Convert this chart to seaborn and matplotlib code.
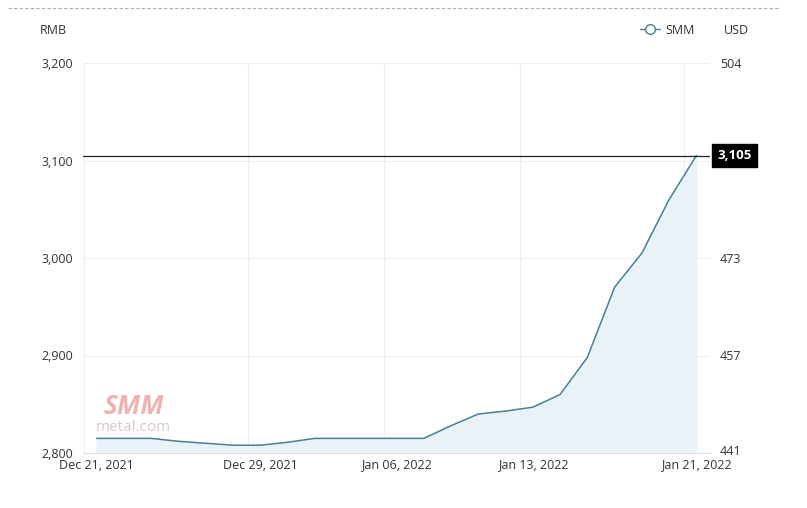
import numpy as np
import pandas as pd
import matplotlib.pyplot as plt
import seaborn as sns
from matplotlib.lines import Line2D
import matplotlib.transforms as mtransforms

# trading days shown on the category axis
dates = ["Dec 21, 2021", "Dec 22, 2021", "Dec 23, 2021", "Dec 24, 2021", "Dec 27, 2021",
         "Dec 28, 2021", "Dec 29, 2021", "Dec 30, 2021", "Dec 31, 2021", "Jan 04, 2022",
         "Jan 05, 2022", "Jan 06, 2022", "Jan 07, 2022", "Jan 10, 2022", "Jan 11, 2022",
         "Jan 12, 2022", "Jan 13, 2022", "Jan 14, 2022", "Jan 17, 2022", "Jan 18, 2022",
         "Jan 19, 2022", "Jan 20, 2022", "Jan 21, 2022"]
prices = [2815, 2815, 2815, 2812, 2810, 2808, 2808, 2811, 2815, 2815,
          2815, 2815, 2815, 2828, 2840, 2843, 2847, 2860, 2898, 2970,
          3005, 3060, 3105]
shown_dates = ["Dec 21, 2021", "Dec 29, 2021", "Jan 06, 2022", "Jan 13, 2022", "Jan 21, 2022"]
rmb_ticks = [2800, 2900, 3000, 3100, 3200]
usd_labels = ["441", "457", "473", "", "504"]
last_price = prices[-1]

df = pd.DataFrame({"idx": np.arange(len(dates)), "date": dates, "price": prices})

sns.set_style("white")
plt.rcParams["font.family"] = ["Open Sans", "DejaVu Sans"]

fig = plt.figure(figsize=(8.07, 5.08), dpi=100)
ax = fig.add_axes([83 / 807, 1 - 453 / 508, (710 - 83) / 807, (453 - 63) / 508])

line_col = "#4a7f99"
sns.lineplot(data=df, x="idx", y="price", ax=ax, color=line_col, linewidth=1.1)
ax.fill_between(df["idx"], df["price"], 2800, color="#e9f2f6", zorder=0)

ax.set_xlim(-0.5, len(dates) - 0.5)
ax.set_ylim(2800, 3200)
ax.set_yticks(rmb_ticks)
ax.set_yticklabels([f"{v:,}" for v in rmb_ticks])
tick_idx = [dates.index(d) for d in shown_dates]
ax.set_xticks(tick_idx)
ax.set_xticklabels(shown_dates)
ax.set_xlabel("")
ax.set_ylabel("")
ax.tick_params(axis="both", length=0, labelsize=9, colors="#333333")
ax.tick_params(axis="x", pad=4)
ax.tick_params(axis="y", pad=7)

# grid
for v in rmb_ticks:
    ax.axhline(v, color="#eeeeee", linewidth=0.8, zorder=-1)
for gx in [-0.46, 5.54, 10.54, 15.54, 21.54]:
    ax.axvline(gx, color="#eeeeee", linewidth=0.8, zorder=-1)
for s in ax.spines.values():
    s.set_visible(False)
ax.spines["bottom"].set_visible(True)
ax.spines["bottom"].set_color("#dddddd")
ax.spines["bottom"].set_linewidth(0.8)

# right USD axis
ax2 = ax.twinx()
ax2.set_ylim(2800, 3200)
ax2.set_yticks(rmb_ticks)
ax2.set_yticklabels(usd_labels)
ax2.tick_params(axis="y", length=0, labelsize=9, colors="#333333", pad=7)
for s in ax2.spines.values():
    s.set_visible(False)
# nudge the bottom USD label up a few pixels so it clears the last date label
lab = ax2.get_yticklabels()[0]
lab.set_transform(lab.get_transform() + mtransforms.ScaledTranslation(0, 3 / 100, fig.dpi_scale_trans))

# last price line and badge
ax.axhline(last_price, color="#222222", linewidth=0.9, zorder=3)
trans = mtransforms.blended_transform_factory(ax.transAxes, ax.transData)
ax.text(1.012, last_price, f"{last_price:,}", transform=trans, ha="left", va="center",
        fontsize=9.5, color="white", fontweight="bold",
        bbox=dict(boxstyle="square,pad=0.4", facecolor="black", edgecolor="black"))

# watermark
ax.text(1.35, 2848, "SMM", fontsize=19, fontweight="bold", color="#e89a9a", alpha=0.75,
        ha="center", va="center", style="italic")
ax.text(1.35, 2826, "metal.com", fontsize=11, color="#dcc8c8", ha="center", va="center")

# header texts
fig.text(40 / 807, 1 - 30 / 508, "RMB", fontsize=9, color="#333333", va="center")
fig.text(724 / 807, 1 - 30 / 508, "USD", fontsize=9, color="#333333", va="center")
handle = Line2D([0], [0], color=line_col, linewidth=1, marker="o", markersize=7,
                markerfacecolor="white", markeredgecolor=line_col)
fig.legend([handle], ["SMM"], loc="center right", bbox_to_anchor=(706 / 807, 1 - 30 / 508),
           frameon=False, fontsize=9, handlelength=1.6, handletextpad=0.4, labelcolor="#333333")

# dashed separator at top
fig.add_artist(Line2D([8 / 807, 780 / 807], [1 - 8 / 508, 1 - 8 / 508], color="#aaaaaa",
                      linewidth=0.8, linestyle=(0, (3, 2))))

fig.savefig("out.png", dpi=100)
